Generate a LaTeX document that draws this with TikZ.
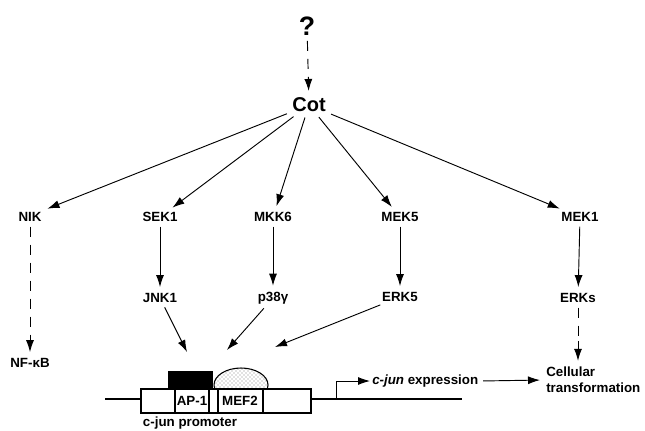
\documentclass[tikz,border=0pt]{standalone}
\usepackage{fontspec}
\setmainfont{Liberation Sans}
\usetikzlibrary{arrows.meta, patterns, positioning, calc}

\begin{document}
\begin{tikzpicture}[x=0.75pt,y=-0.75pt,
  lbl/.style={font=\bfseries\fontsize{10}{12}\selectfont, inner sep=1.5pt},
  big/.style={font=\bfseries\fontsize{15}{18}\selectfont, inner sep=2pt},
  arr/.style={-{Latex[length=9pt,width=6pt]}, line width=0.7pt, shorten >=3pt, shorten <=2pt},
  dsh/.style={line width=0.7pt, dash pattern=on 7.5pt off 6pt, shorten >=6pt, shorten <=2pt},
  dna/.style={line width=0.8pt}]
\useasboundingbox (0,0) rectangle (645,431);

% signalling nodes
\node [big, font=\bfseries\fontsize{20}{24}\selectfont] (q) at (307,26) {?};
\node [big] (cot) at (309,105) {Cot};
\node [lbl] (nik) at (30,217) {NIK};
\node [lbl] (sek) at (160,217) {SEK1};
\node [lbl] (mkk) at (273,217) {MKK6};
\node [lbl] (mekf) at (400,217) {MEK5};
\node [lbl] (meko) at (580,217) {MEK1};
\node [lbl] (jnk) at (160,298) {JNK1};
\node [lbl] (pgam) at (273,298) {p38γ};
\node [lbl] (erkf) at (400,297) {ERK5};
\node [lbl] (erks) at (578,298) {ERKs};
\node [lbl] (nfkb) at (30,363) {NF-κB};
\node [lbl, align=left, anchor=west] (cell) at (544,380) {Cellular\\transformation};

% dashed links, solid tip at the end
\draw [dsh] (q) -- (cot);
\draw [arr] ($(q)!0.75!(cot)$) -- (cot);
\draw [dsh] (nik) -- (nfkb);
\draw [arr] ($(nik)!0.85!(nfkb)$) -- (nfkb);
\draw [dsh] (erks) -- (erks |- cell.north);
\draw [arr] ($(erks)!0.6!(erks |- cell.north)$) -- (erks |- cell.north);

\draw [arr] (cot) -- (nik.north east);
\draw [arr] (cot) -- (sek);
\draw [arr] (cot) -- (mkk);
\draw [arr] (cot) -- (mekf);
\draw [arr] (cot) -- (meko);
\draw [arr] (sek) -- (jnk);
\draw [arr] (mkk) -- (pgam);
\draw [arr] (mekf) -- (erkf);
\draw [arr] (meko) -- (erks);

% promoter
\draw [dna] (105,399) -- (141,399);
\draw [dna] (311,399) -- (462,399);
\draw [dna, fill=white, pattern=crosshatch dots, pattern color=gray] (241,385) ellipse [x radius=20.25pt, y radius=12.75pt];
\fill (168,371) rectangle (213,389);
\draw [dna, fill=white] (141,389) rectangle (311,413);
\draw [dna] (175,389) -- (175,413);
\draw [dna] (209,389) -- (209,413);
\draw [dna] (218,389) -- (218,413);
\draw [dna] (263,389) -- (263,413);
\node [lbl] (apone) at (192,401) {AP-1};
\node [lbl] (meftwo) at (240,401) {MEF2};
\node [lbl] (prom) at (190,423) {c-jun promoter};

\coordinate (hitap) at (187,352);
\coordinate (hitmef) at (227,350);
\coordinate (hitfree) at (275,347);
\draw [arr, shorten >=0pt] (jnk) -- (hitap);
\draw [arr, shorten >=0pt] (pgam) -- (hitmef);
\draw [arr, shorten >=0pt] (erkf) -- (hitfree);

% expression
\node [lbl, anchor=west] (expr) at (370,381) {\textit{c-jun} expression};
\coordinate (tss) at (336,399);
\draw [arr, shorten <=0pt, shorten >=0pt] (tss) |- (expr.west);
\draw [arr] (expr.east) -- (cell.west);
\end{tikzpicture}
\end{document}
